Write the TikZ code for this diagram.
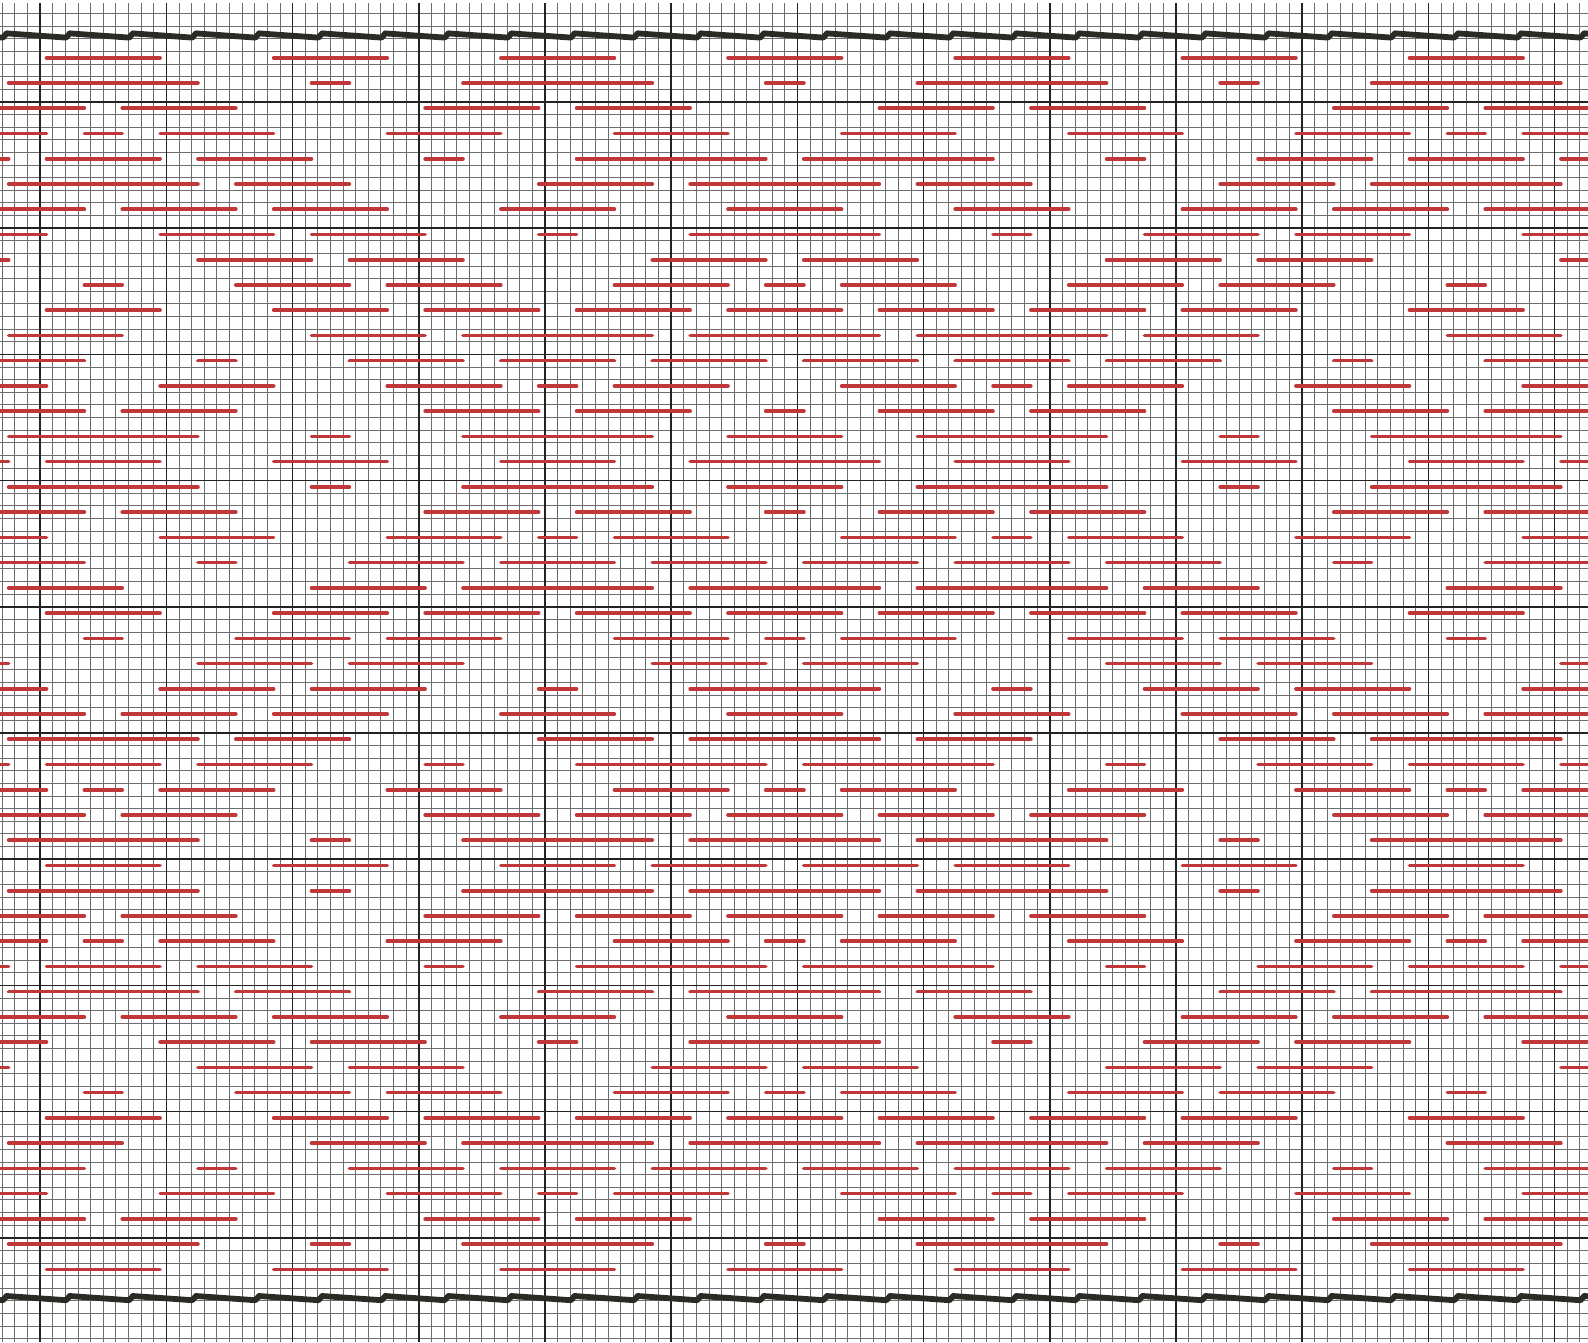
\documentclass[tikz,border=0pt]{standalone}
\usepackage{tikz}
\definecolor{stitch}{RGB}{192,55,58}
\definecolor{minorgrid}{RGB}{110,110,110}
\definecolor{majorgrid}{RGB}{35,35,35}
\definecolor{fold}{RGB}{40,44,36}
\tikzset{
  minorline/.style={draw=minorgrid, line width=0.55pt},
  majorline/.style={draw=majorgrid, line width=0.85pt},
  stitchline/.style={draw=stitch, line width=2.05pt, line cap=round},
  foldline/.style={draw=fold, line width=3.3pt, line cap=round, line join=round}
}
% right-half runs (in 3-cell units, mirrored about the centre column)
\def\pA{0/1,5/7,11/13,17/19}
\def\pB{0/0,4/8,12/12,16/20}
\def\pC{3/5,7/9,15/17,19/23}
\def\pD{2/4,8/10,14/16,18/18,20/23}
\def\pE{1/5,9/9,13/15,17/19,21/23}
\def\pF{0/2,4/6,12/14,16/20}
\def\pG{0/1,5/7,11/13,15/17,19/23}
\def\pH{0/2,6/6,10/12,14/16,20/23}
\def\pI{1/3,9/11,13/15,21/23}
\def\pJ{0/0,2/4,8/10,12/14,18/18}
\def\pK{0/1,3/5,7/9,11/13,17/19}
\def\pL{0/2,4/8,10/12,18/20}
\def\pM{1/3,5/7,9/11,15/15,19/23}
\def\pN{2/4,6/6,8/10,14/16,20/23}
\def\pO{0/0,3/5,7/9,15/17,19/23}
\def\pP{0/1,4/8,12/12,16/20}
\def\pQ{0/2,5/7,11/13,17/19,21/23}
\def\pR{0/0,2/4,8/10,14/16,18/18,20/23}
\def\pS{0/1,3/5,7/9,15/17,19/23}
\def\pT{0/2,4/8,12/12,16/20}
\def\pU{1/3,5/7,11/13,17/19}
\newcommand\stitchrow[2]{%
  \pgfmathsetmacro\yrow{57.8+25.24*(#1-1)}%
  \foreach \sa/\sb in #2 {%
    \draw[stitchline] ({784.78+37.86*(\sa-0.5)},\yrow) -- ({784.78+37.86*(\sb+0.5)},\yrow);
    \draw[stitchline] ({784.78-37.86*(\sb+0.5)},\yrow) -- ({784.78-37.86*(\sa-0.5)},\yrow);
  }%
}
\begin{document}
\begin{tikzpicture}[x=0.02cm,y=-0.02cm]
\useasboundingbox (0,0) rectangle (1588,1342);
\fill[white] (0,0) rectangle (1588,1342);
\begin{scope}
\clip (0,0) rectangle (1588,1342);
% minor grid
\foreach \g in {-3,...,122} {
  \pgfmathsetmacro\xx{40.2+12.62*\g}
  \draw[minorline] (\xx,3) -- (\xx,1342);
}
\foreach \k in {1,...,106} {
  \pgfmathsetmacro\yy{1.04+12.62*\k}
  \draw[minorline] (0,\yy) -- (1588,\yy);
}
% major grid
\foreach \g in {0,10,...,120} {
  \pgfmathsetmacro\xx{40.2+12.62*\g}
  \draw[majorline] (\xx,3) -- (\xx,1342);
}
\foreach \j in {0,...,9} {
  \pgfmathsetmacro\yy{102+126.2*\j}
  \draw[majorline] (0,\yy) -- (1588,\yy);
}
% stitches
\stitchrow{1}{\pA}
\stitchrow{2}{\pB}
\stitchrow{3}{\pC}
\stitchrow{4}{\pD}
\stitchrow{5}{\pE}
\stitchrow{6}{\pF}
\stitchrow{7}{\pG}
\stitchrow{8}{\pH}
\stitchrow{9}{\pI}
\stitchrow{10}{\pJ}
\stitchrow{11}{\pK}
\stitchrow{12}{\pL}
\stitchrow{13}{\pM}
\stitchrow{14}{\pN}
\stitchrow{15}{\pO}
\stitchrow{16}{\pP}
\stitchrow{17}{\pQ}
\stitchrow{18}{\pP}
\stitchrow{19}{\pO}
\stitchrow{20}{\pN}
\stitchrow{21}{\pM}
\stitchrow{22}{\pL}
\stitchrow{23}{\pK}
\stitchrow{24}{\pJ}
\stitchrow{25}{\pI}
\stitchrow{26}{\pH}
\stitchrow{27}{\pG}
\stitchrow{28}{\pF}
\stitchrow{29}{\pE}
\stitchrow{30}{\pR}
\stitchrow{31}{\pS}
\stitchrow{32}{\pT}
\stitchrow{33}{\pU}
\stitchrow{34}{\pT}
\stitchrow{35}{\pS}
\stitchrow{36}{\pR}
\stitchrow{37}{\pE}
\stitchrow{38}{\pF}
\stitchrow{39}{\pG}
\stitchrow{40}{\pH}
\stitchrow{41}{\pI}
\stitchrow{42}{\pJ}
\stitchrow{43}{\pK}
\stitchrow{44}{\pL}
\stitchrow{45}{\pM}
\stitchrow{46}{\pN}
\stitchrow{47}{\pC}
\stitchrow{48}{\pB}
\stitchrow{49}{\pA}
% fold lines (sawtooth)
\foreach \n in {-2,...,25} {
  \pgfmathsetmacro\xa{40.2+12.62*(2.35+5*\n)}
  \pgfmathsetmacro\xb{40.2+12.62*(2.35+5*\n+4.7)}
  \pgfmathsetmacro\xc{40.2+12.62*(2.35+5*\n+5)}
  \draw[foldline] (\xa,33.4) -- (\xb,37.6) -- (\xc,33.4);
  \draw[foldline] (\xa,1296.0) -- (\xb,1300.2) -- (\xc,1296.0);
}
\end{scope}
\end{tikzpicture}
\end{document}
